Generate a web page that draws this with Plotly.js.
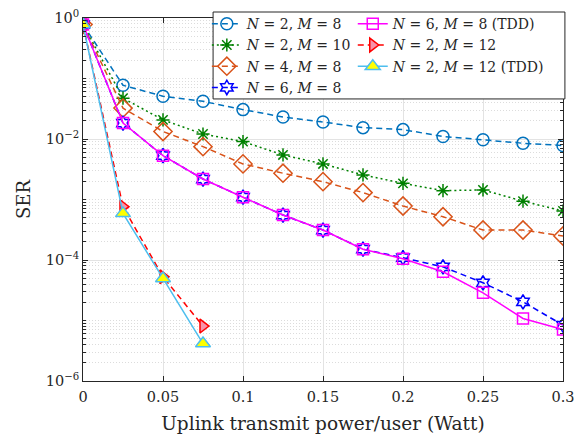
<!DOCTYPE html>
<html>
<head>
<meta charset="utf-8">
<script src="https://cdn.plot.ly/plotly-3.0.1.min.js"></script>
<style>html,body{margin:0;padding:0;background:#fff;}#chart{width:584px;height:437px;}</style>
</head>
<body>
<div id="chart"></div>
<script>
const power = [0, 0.025, 0.05, 0.075, 0.1, 0.125, 0.15, 0.175, 0.2, 0.225, 0.25, 0.275, 0.3];
const powerShort = [0, 0.025, 0.05, 0.075];

const serN2M8 = [0.78, 0.0774, 0.0509, 0.042, 0.0306, 0.0231, 0.0191, 0.0154, 0.0143, 0.0110, 0.0097, 0.0085, 0.0078];
const serN2M10 = [0.78, 0.0473, 0.0207, 0.0121, 0.00906, 0.00545, 0.00387, 0.00255, 0.00185, 0.00140, 0.00144, 0.00094, 0.000645];
const serN4M8 = [0.78, 0.0324, 0.0133, 0.00748, 0.00387, 0.00272, 0.00197, 0.00130, 0.00078, 0.000519, 0.000313, 0.000313, 0.000249];
const serN6M8 = [0.78, 0.0183, 0.00531, 0.00218, 0.00109, 0.000554, 0.000313, 0.000151, 0.000109, 7.7e-5, 4.2e-5, 2.03e-5, 8.4e-6];
const serN6M8TDD = [0.78, 0.0183, 0.00531, 0.00218, 0.00109, 0.000554, 0.000313, 0.000151, 0.000105, 6.4e-5, 2.87e-5, 1.08e-5, 7.1e-6];
const serN2M12 = [0.78, 0.00076, 5.27e-5, 8.1e-6];
const serN2M12TDD = [0.78, 0.00059, 4.96e-5, 4.16e-6];

const names = [
  '<i>N</i> = 2, <i>M</i> = 8',
  '<i>N</i> = 2, <i>M</i> = 10',
  '<i>N</i> = 4, <i>M</i> = 8',
  '<i>N</i> = 6, <i>M</i> = 8',
  '<i>N</i> = 6, <i>M</i> = 8 (TDD)',
  '<i>N</i> = 2, <i>M</i> = 12',
  '<i>N</i> = 2, <i>M</i> = 12 (TDD)'
];

const xTickVals = [0, 0.05, 0.1, 0.15, 0.2, 0.25, 0.3];
const xTickText = ['0', '0.05', '0.1', '0.15', '0.2', '0.25', '0.3'];
const yTickVals = [1e-6, 1e-4, 1e-2, 1];
const yTickText = ['10<sup>\u22126</sup>', '10<sup>\u22124</sup>', '10<sup>\u22122</sup>', '10<sup>0</sup>'];

const minorY = [];
for (let e = -6; e < 0; e++) {
  for (let m = 1; m <= 9; m++) {
    const v = m * Math.pow(10, e);
    if (!(m === 1 && e % 2 === 0)) minorY.push(v);
  }
}

const dash = '6px,4px';
const dot = '2px,3px';

const traces = [
  {x: power, y: serN2M8, name: names[0], legend: 'legend',
   line: {color: '#0072BD', width: 1.5, dash: dash},
   marker: {symbol: 'circle-open', size: 12, color: '#0072BD', line: {width: 1.5, color: '#0072BD'}}},
  {x: power, y: serN2M10, name: names[1], legend: 'legend',
   line: {color: '#008000', width: 1.5, dash: dot},
   marker: {symbol: 'asterisk-open', size: 11, color: '#008000', line: {width: 1.5, color: '#008000'}}},
  {x: power, y: serN4M8, name: names[2], legend: 'legend',
   line: {color: '#D95319', width: 1.5, dash: dash},
   marker: {symbol: 'diamond-open', size: 14, color: '#D95319', line: {width: 1.5, color: '#D95319'}}},
  {x: power, y: serN6M8, name: names[3], legend: 'legend',
   line: {color: '#0000FF', width: 1.5, dash: dash},
   marker: {symbol: 'hexagram-open', size: 11, color: '#0000FF', line: {width: 1.5, color: '#0000FF'}}},
  {x: power, y: serN6M8TDD, name: names[4], legend: 'legend2',
   line: {color: '#FF00FF', width: 1.5},
   marker: {symbol: 'square-open', size: 11, color: '#FF00FF', line: {width: 1.5, color: '#FF00FF'}}},
  {x: powerShort, y: serN2M12, name: names[5], legend: 'legend2',
   line: {color: '#FF0000', width: 1.5, dash: dash},
   marker: {symbol: 'triangle-right', size: 12, color: '#F793AA', line: {width: 1.5, color: '#FF0000'}}},
  {x: powerShort, y: serN2M12TDD, name: names[6], legend: 'legend2',
   line: {color: '#4DBEEE', width: 1.5},
   marker: {symbol: 'triangle-up', size: 13, color: '#FFFF00', line: {width: 1.5, color: '#4DBEEE'}}}
].map(t => Object.assign({type: 'scatter', mode: 'lines+markers'}, t));

const fontFam = '"DejaVu Serif", "Liberation Serif", serif';
const txt = '#262626';

const legendBase = {
  orientation: 'v', xanchor: 'left', yanchor: 'top', y: 1.027,
  bgcolor: 'rgba(0,0,0,0)', borderwidth: 0,
  font: {family: fontFam, size: 14, color: txt},
  tracegroupgap: 0, itemwidth: 30
};

const layout = {
  width: 584, height: 437,
  margin: {l: 83, r: 21, t: 18, b: 56, autoexpand: false},
  paper_bgcolor: '#ffffff', plot_bgcolor: '#ffffff',
  font: {family: fontFam, size: 14, color: txt},
  showlegend: true,
  legend: Object.assign({}, legendBase, {x: 0.258}),
  legend2: Object.assign({}, legendBase, {x: 0.562}),
  shapes: [{
    type: 'rect', xref: 'paper', yref: 'paper', layer: 'above',
    x0: 0.271, x1: 1.004, y0: 0.777, y1: 1.0165,
    line: {color: txt, width: 1}, fillcolor: '#ffffff'
  }],
  xaxis: {
    range: [0, 0.3], tickmode: 'array', tickvals: xTickVals, ticktext: xTickText,
    showgrid: true, gridcolor: '#e3e3e3', gridwidth: 1,
    showline: true, linecolor: txt, linewidth: 1, mirror: 'ticks',
    ticks: 'inside', ticklen: 5, tickcolor: txt,
    zeroline: false, ticklabelstandoff: 3,
    tickfont: {family: fontFam, size: 14.5, color: txt},
    title: {text: 'Uplink transmit power/user (Watt)', font: {family: fontFam, size: 18.5, color: txt}, standoff: 12}
  },
  yaxis: {
    type: 'log', range: [-6, 0], tickmode: 'array', tickvals: yTickVals, ticktext: yTickText,
    showgrid: true, gridcolor: '#e3e3e3', gridwidth: 1,
    showline: true, linecolor: txt, linewidth: 1, mirror: 'ticks',
    ticks: 'inside', ticklen: 5, tickcolor: txt,
    zeroline: false,
    tickfont: {family: fontFam, size: 14.5, color: txt},
    minor: {tickmode: 'array', tickvals: minorY, showgrid: true, gridcolor: '#dcdcdc', griddash: '1px,2px', gridwidth: 1, ticks: 'inside', ticklen: 3, tickcolor: txt},
    title: {text: 'SER', font: {family: fontFam, size: 18, color: txt}, standoff: 10}
  }
};

Plotly.newPlot('chart', traces, layout, {displayModeBar: false, staticPlot: true});
</script>
</body>
</html>
